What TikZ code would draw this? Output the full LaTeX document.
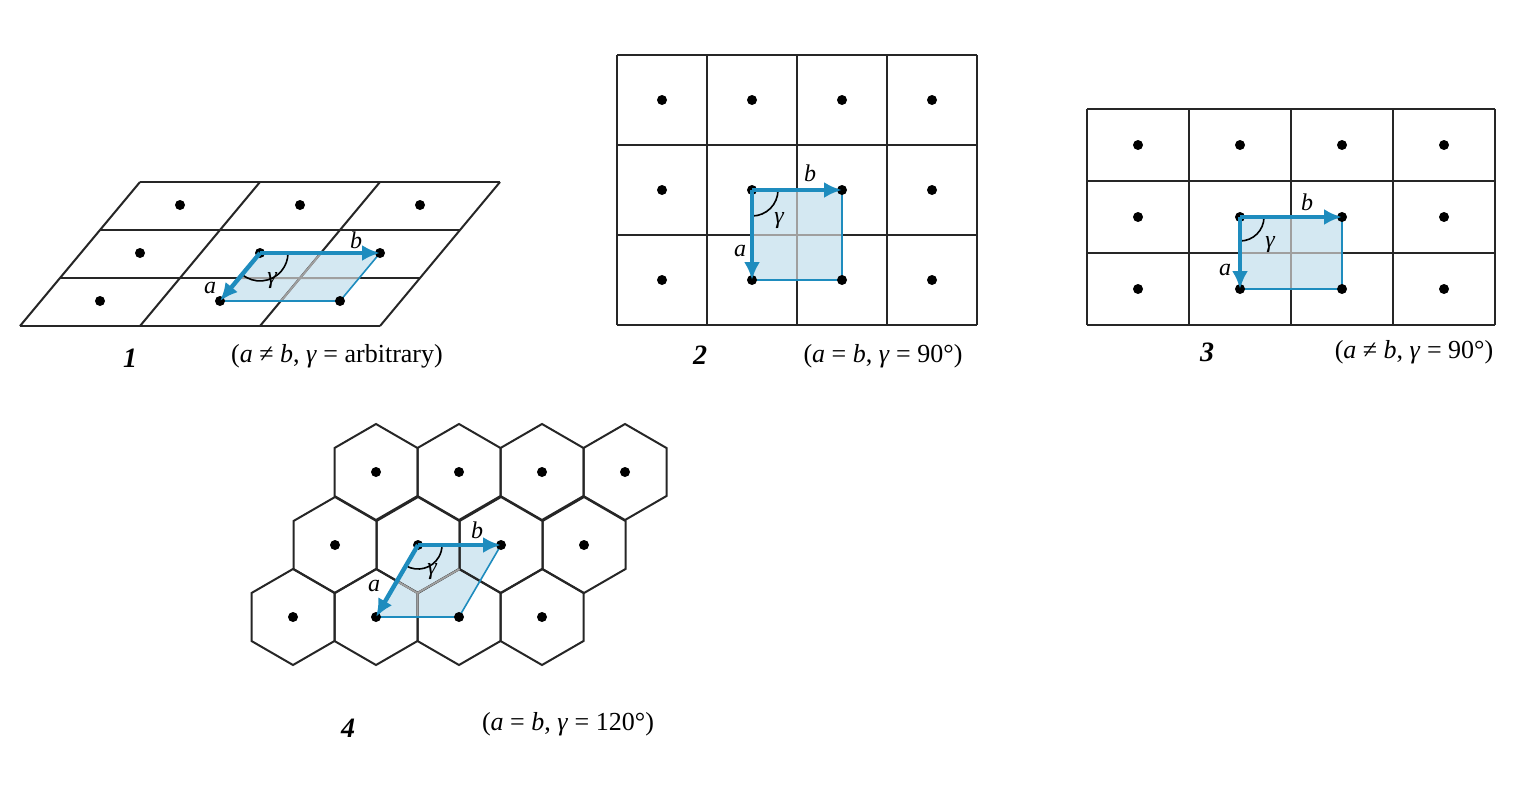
\documentclass[tikz,border=0pt]{standalone}
\usepackage{fontspec}
\setmainfont{Liberation Serif}
\usetikzlibrary{arrows.meta}
\begin{document}
\begin{tikzpicture}[x=0.5pt,y=-0.5pt]
\definecolor{cblue}{RGB}{30,140,190}
\definecolor{cshade}{RGB}{212,232,242}
\tikzset{grid/.style={line width=1pt,black!85},
 vec/.style={cblue,line width=2.2pt,-{Latex[length=9pt,width=8pt]}},
 inner/.style={gray!75,line width=1pt},
 dot/.style={circle,fill=black,inner sep=0pt,minimum size=5pt},
 lab/.style={font=\itshape\fontsize{12}{12}\selectfont},
 captext/.style={font=\fontsize{13}{14}\selectfont},
 num/.style={font=\bfseries\itshape\fontsize{14}{14}\selectfont}}
\useasboundingbox (0,0) rectangle (1513,787);
% ---------- panel 1
\fill[cshade] (260,253)--(380,253)--(340,301)--(220,301)--cycle;
\foreach \y/\xo in {182/140,230/100,278/60,326/20}
  \draw[grid] (\xo,\y)--++(360,0);
\foreach \x in {20,140,260,380} \draw[grid] (\x,326)--++(120,-144);
\draw[inner] (240,278)--(360,278) (321,253)--(281,301);
\draw[cblue,line width=0.8pt] (260,253)--(380,253)--(340,301)--(220,301)--cycle;
\foreach \p/\x/\y in {p1a/100/301,p1b/220/301,p1c/340/301,p1d/140/253,p1e/260/253,p1f/380/253,p1g/180/205,p1h/300/205,p1i/420/205}
  \node[dot] (\p) at (\x,\y) {};
\draw[black,line width=0.8pt] (242,274.4) arc[start angle=130,end angle=0,radius=28];
\draw[vec] (p1e.center)--(p1b.center);
\draw[vec] (p1e.center)--(p1f.center);
\node[lab] at (210,288) {a};
\node[lab] at (356,240) {b};
\node[lab] at (272,281) {γ};
\node[num] at (130,358) {1};
\node[captext] at (337,356) {(\textit{a} ≠ \textit{b}, \textit{γ} = arbitrary)};
% ---------- panel 2
\fill[cshade] (752,190) rectangle (842,280);
\foreach \y in {55,145,235,325} \draw[grid] (617,\y)--(977,\y);
\foreach \x in {617,707,797,887,977} \draw[grid] (\x,55)--(\x,325);
\draw[inner] (797,190)--(797,280) (752,235)--(842,235);
\draw[cblue,line width=0.8pt] (752,190) rectangle (842,280);
\foreach \i/\x in {1/662,2/752,3/842,4/932}
  \foreach \j/\y in {1/100,2/190,3/280}
    \node[dot] (q\i\j) at (\x,\y) {};
\draw[black,line width=0.8pt] (752,216) arc[start angle=90,end angle=0,radius=26];
\draw[vec] (q22.center)--(q23.center);
\draw[vec] (q22.center)--(q32.center);
\node[lab] at (740,251) {a};
\node[lab] at (810,173) {b};
\node[lab] at (779,221) {γ};
\node[num] at (700,355) {2};
\node[captext] at (883,356) {(\textit{a} = \textit{b}, \textit{γ} = 90°)};
% ---------- panel 3
\fill[cshade] (1240,217) rectangle (1342,289);
\foreach \y in {109,181,253,325} \draw[grid] (1087,\y)--(1495,\y);
\foreach \x in {1087,1189,1291,1393,1495} \draw[grid] (\x,109)--(\x,325);
\draw[inner] (1291,217)--(1291,289) (1240,253)--(1342,253);
\draw[cblue,line width=0.8pt] (1240,217) rectangle (1342,289);
\foreach \i/\x in {1/1138,2/1240,3/1342,4/1444}
  \foreach \j/\y in {1/145,2/217,3/289}
    \node[dot] (r\i\j) at (\x,\y) {};
\draw[black,line width=0.8pt] (1240,241) arc[start angle=90,end angle=0,radius=24];
\draw[vec] (r22.center)--(r23.center);
\draw[vec] (r22.center)--(r32.center);
\node[lab] at (1225,270) {a};
\node[lab] at (1307,202) {b};
\node[lab] at (1270,245) {γ};
\node[num] at (1207,352) {3};
\node[captext] at (1414,352) {(\textit{a} ≠ \textit{b}, \textit{γ} = 90°)};
% ---------- panel 4
\fill[cshade] (418,545)--(501,545)--(459,617)--(376,617)--cycle;
\foreach \x/\y in {376/472,459/472,542/472,625/472,335/545,418/545,501/545,584/545,293/617,376/617,459/617,542/617}
  \draw[grid] (\x,\y) ++(0,-48) -- ++(41.5,24) -- ++(0,48) -- ++(-41.5,24) -- ++(-41.5,-24) -- ++(0,-48) -- cycle;
\begin{scope}
\clip (418,545)--(501,545)--(459,617)--(376,617)--cycle;
\draw[inner] (459.5,569)--(417.5,593)--(376,569) (417.5,593)--(417.5,641);
\end{scope}
\draw[cblue,line width=0.8pt] (418,545)--(501,545)--(459,617)--(376,617)--cycle;
\foreach \x/\y [count=\k] in {376/472,459/472,542/472,625/472,335/545,418/545,501/545,584/545,293/617,376/617,459/617,542/617}
  \node[dot] (h\k) at (\x,\y) {};
\draw[black,line width=0.8pt] (406,565.8) arc[start angle=120,end angle=0,radius=24];
\draw[vec] (h6.center)--(h10.center);
\draw[vec] (h6.center)--(h7.center);
\node[lab] at (374,586) {a};
\node[lab] at (477,530) {b};
\node[lab] at (432,572) {γ};
\node[num] at (348,728) {4};
\node[captext] at (568,724) {(\textit{a} = \textit{b}, \textit{γ} = 120°)};
\end{tikzpicture}
\end{document}
